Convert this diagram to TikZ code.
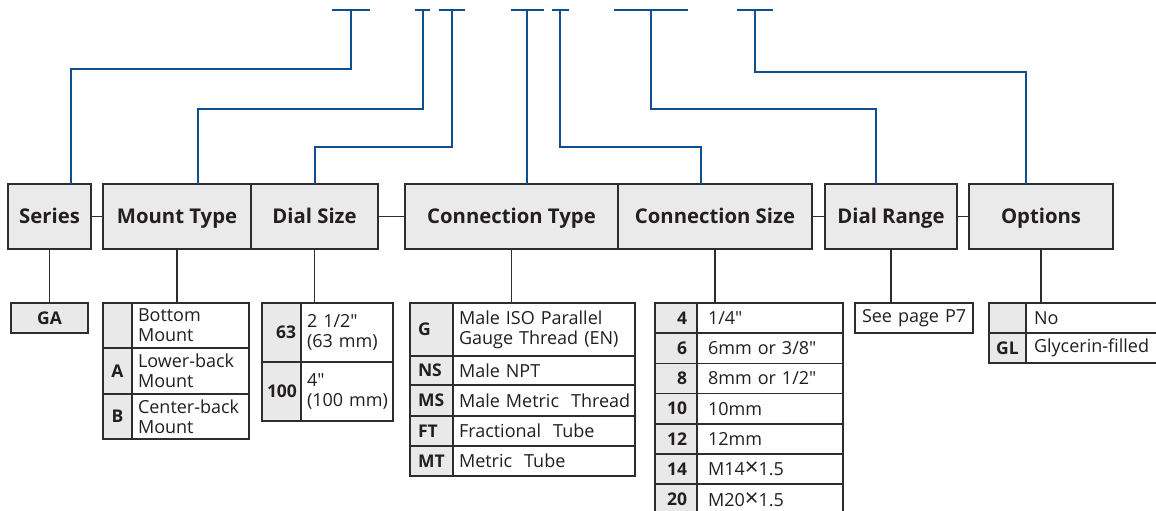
\documentclass[tikz,border=0pt]{standalone}
\usepackage{fontspec}
\setmainfont{Open Sans}[Ligatures=TeXOff]
\usetikzlibrary{positioning}
\definecolor{leadblue}{RGB}{16,78,146}
\definecolor{boxline}{RGB}{45,45,45}
\definecolor{headgray}{RGB}{234,234,234}
\definecolor{keygray}{RGB}{233,233,233}
\definecolor{ink}{RGB}{35,31,32}
\newcommand{\crossx}{{\fontsize{24}{20}\selectfont ×}}
\tikzstyle{header} = [rectangle, draw=boxline, fill=headgray, line width=1.5pt, minimum height=65pt, inner sep=0pt, outer sep=0pt, text=ink, text height=15pt, text depth=1pt, font=\bfseries\fontsize{20.3}{24}\selectfont]
\tikzstyle{keycell} = [rectangle, draw=boxline, fill=keygray, line width=1.5pt, inner xsep=5pt, inner ysep=0pt, outer sep=0pt, text=ink, font=\bfseries\fontsize{17.5}{20}\selectfont]
\tikzstyle{valcell} = [rectangle, draw=boxline, fill=white, line width=1.5pt, inner xsep=6pt, inner ysep=0pt, outer sep=0pt, align=left, text=ink, font=\fontsize{18}{20}\selectfont]
\tikzstyle{lead} = [draw=leadblue, line width=2pt]
\tikzstyle{link} = [draw=boxline, line width=1.3pt]

\begin{document}
\begin{tikzpicture}[x=1pt, y=-1pt]
        \useasboundingbox (0,0) rectangle (1156,511);
        % Header boxes
        \node (series) [header, minimum width=83pt, anchor=north west] at (8,184) {Series};
        \node (mount) [header, minimum width=148pt, right=12pt of series] {Mount Type};
        \node (dial) [header, minimum width=127pt, right=0pt of mount] {Dial Size};
        \node (ctype) [header, minimum width=213pt, right=27pt of dial] {Connection Type};
        \node (csize) [header, minimum width=194pt, right=0pt of ctype] {Connection Size};
        \node (range) [header, minimum width=132pt, right=13pt of csize] {Dial Range};
        \node (opts) [header, minimum width=144pt, right=12pt of range] {Options};

        % Code ticks
        \coordinate (cd1) at (351,10);
        \coordinate (cd2) at (423,10);
        \coordinate (cd3) at (452,10);
        \coordinate (cd4) at (527,10);
        \coordinate (cd5) at (560,10);
        \coordinate (cd6) at (651,10);
        \coordinate (cd7) at (755,10);
        \draw [lead] ([xshift=-19pt]cd1) -- ([xshift=19pt]cd1);
        \draw [lead] ([xshift=-8pt]cd2) -- ([xshift=7pt]cd2);
        \draw [lead] ([xshift=-13pt]cd3) -- ([xshift=13pt]cd3);
        \draw [lead] ([xshift=-16pt]cd4) -- ([xshift=17pt]cd4);
        \draw [lead] ([xshift=-8pt]cd5) -- ([xshift=9pt]cd5);
        \draw [lead] ([xshift=-37pt]cd6) -- ([xshift=37pt]cd6);
        \draw [lead] ([xshift=-18pt]cd7) -- ([xshift=18pt]cd7);

        % Series
        \node (ga) [keycell, minimum width=77pt, minimum height=30pt, anchor=north west] at (11,303) {GA};

        % Mount type
        \node (mk1) [keycell, text width=19pt, align=center, minimum height=45pt, anchor=north west] at (103,303) {};
        \node (mv1) [valcell, text width=105pt, minimum height=45pt, right=0pt of mk1] {Bottom\\Mount};
        \node (mk2) [keycell, text width=19pt, align=center, minimum height=46pt, below=0pt of mk1] {A};
        \node (mv2) [valcell, text width=105pt, minimum height=46pt, right=0pt of mk2] {Lower-back\\Mount};
        \node (mk3) [keycell, text width=19pt, align=center, minimum height=45pt, below=0pt of mk2] {B};
        \node (mv3) [valcell, text width=105pt, minimum height=45pt, right=0pt of mk3] {Center-back\\Mount};

        % Dial size
        \node (dk1) [keycell, text width=29pt, align=right, minimum height=59pt, anchor=north west] at (262,303) {63};
        \node (dv1) [valcell, text width=80pt, minimum height=59pt, right=0pt of dk1] {2 1/2"\\(63~mm)};
        \node (dk2) [keycell, text width=29pt, align=right, minimum height=59pt, below=0pt of dk1] {100};
        \node (dv2) [valcell, text width=80pt, minimum height=59pt, right=0pt of dk2] {4"\\(100~mm)};

        % Connection type
        \node (ck1) [keycell, inner xsep=8pt, text width=27pt, align=left, minimum height=53pt, anchor=north west] at (410,303) {G};
        \node (cv1) [valcell, text width=170pt, minimum height=53pt, right=0pt of ck1] {Male ISO Parallel\\Gauge Thread (EN)};
        \node (ck2) [keycell, inner xsep=8pt, text width=27pt, align=left, minimum height=29pt, below=0pt of ck1] {NS};
        \node (cv2) [valcell, text width=170pt, minimum height=29pt, right=0pt of ck2] {Male NPT};
        \node (ck3) [keycell, inner xsep=8pt, text width=27pt, align=left, minimum height=31pt, below=0pt of ck2] {MS};
        \node (cv3) [valcell, text width=170pt, minimum height=31pt, right=0pt of ck3] {\mbox{Male Metric\ \ Thread}};
        \node (ck4) [keycell, inner xsep=8pt, text width=27pt, align=left, minimum height=30pt, below=0pt of ck3] {FT};
        \node (cv4) [valcell, text width=170pt, minimum height=30pt, right=0pt of ck4] {Fractional\ \ Tube};
        \node (ck5) [keycell, inner xsep=8pt, text width=27pt, align=left, minimum height=30pt, below=0pt of ck4] {MT};
        \node (cv5) [valcell, text width=170pt, minimum height=30pt, right=0pt of ck5] {Metric\ \ Tube};

        % Connection size
        \node (sk1) [keycell, inner xsep=10pt, text width=22pt, align=right, minimum height=30.2pt, anchor=north west] at (655,303) {4};
        \node (sv1) [valcell, inner xsep=11pt, text width=124pt, minimum height=30.2pt, right=0pt of sk1] {1/4"};
        \foreach \k/\v [count=\i from 2] in {6/{6mm or 3/8"}, 8/{8mm or 1/2"}, 10/10mm, 12/12mm, 14/{M14\crossx 1.5}, 20/{M20\crossx 1.5}} {
            \pgfmathtruncatemacro\p{\i-1}
            \node (sk\i) [keycell, inner xsep=10pt, text width=22pt, align=right, minimum height=30.2pt, below=0pt of sk\p] {\k};
            \node (sv\i) [valcell, inner xsep=11pt, text width=124pt, minimum height=30.2pt, right=0pt of sk\i] {\v};
        }

        % Dial range
        \node (page) [valcell, inner xsep=7pt, text width=104pt, minimum height=30pt, anchor=north west] at (855,303) {\mbox{See page P7}};

        % Options
        \node (ok1) [keycell, text width=27pt, align=center, minimum height=30pt, anchor=north west] at (989,303) {};
        \node (ov1) [valcell, inner xsep=8pt, text width=124pt, minimum height=30pt, right=0pt of ok1] {No};
        \node (ok2) [keycell, text width=27pt, align=center, minimum height=30pt, below=0pt of ok1] {GL};
        \node (ov2) [valcell, inner xsep=8pt, text width=124pt, minimum height=30pt, right=0pt of ok2] {Glycerin-filled};

        % Blue leads
        \draw [lead] (cd1) -- ++(0,59) -| ([xshift=21.5pt]series.north);
        \draw [lead] (cd2) -- ++(0,99) -| ([xshift=21pt]mount.north);
        \draw [lead] (cd3) -- ++(0,137) -| (dial.north);
        \draw [lead] (cd4) -- ([xshift=15.5pt]ctype.north);
        \draw [lead] (cd5) -- ++(0,137) -| ([xshift=-14pt]csize.north);
        \draw [lead] (cd6) -- ++(0,99) -| ([xshift=-15pt]range.north);
        \draw [lead] (cd7) -- ++(0,62) -| ([xshift=-15pt]opts.north);

        % Links
        \draw [link] (series) -- (mount);
        \draw [link] (dial) -- (ctype);
        \draw [link] (csize) -- (range);
        \draw [link] (range) -- (opts);
        \draw [link] (series.south) -- (ga.north);
        \draw [link] (mount.south) -- (mount.south |- mk1.north);
        \draw [link] (dial.south) -- (dial.south |- dk1.north);
        \draw [link] (ctype.south) -- (ctype.south |- ck1.north);
        \draw [link] (csize.south) -- (csize.south |- sk1.north);
        \draw [link] (range.south) -- (range.south |- page.north);
        \draw [link] (opts.south) -- (opts.south |- ok1.north);
    \end{tikzpicture}
\end{document}
